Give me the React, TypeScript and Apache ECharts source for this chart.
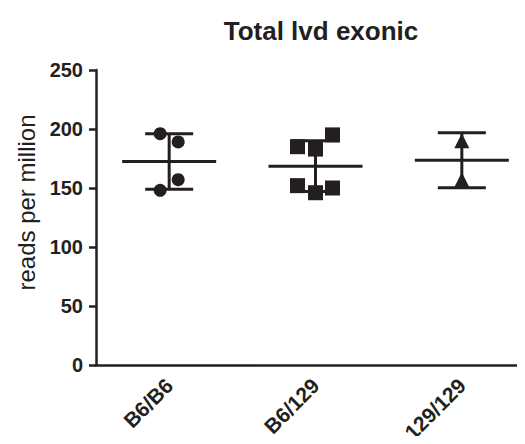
import React, { useEffect, useRef } from "react";
import * as echarts from "echarts";

const TITLE = "Total lvd exonic";
const Y_NAME = "reads per million";
const CATEGORIES = ["B6/B6", "B6/129", "129/129"];
const B6_B6 = [196, 189, 157, 148];
const B6_129 = [185, 183, 195, 152, 146, 150];
const S129_129 = [190, 157];
const Y_TICKS = [0, 50, 100, 150, 200, 250];

const GROUPS = [B6_B6, B6_129, S129_129];
const SYMBOLS = ["circle", "rect", "triangle"];
const SYMBOL_SIZES = [13, 15, 15];
// horizontal scatter-dot spread (pixels) for each point
const SPREAD = [
  [-9, 9, 9, -9],
  [-18, 0, 17, -18, 0, 17],
  [0, 0],
];

const INK = "#231f20";
const FONT = "Arial, 'Liberation Sans', Helvetica, sans-serif";

function mean(a: number[]) {
  return a.reduce((s, v) => s + v, 0) / a.length;
}
function sd(a: number[]) {
  const m = mean(a);
  return Math.sqrt(a.reduce((s, v) => s + (v - m) * (v - m), 0) / (a.length - 1));
}

export default function App() {
  const ref = useRef<HTMLDivElement>(null);
  useEffect(() => {
    if (!ref.current) return;
    const chart = echarts.init(ref.current, null, { renderer: "svg" });
    const summary = GROUPS.map((g, i) => [i, mean(g), sd(g)]);
    const scatterSeries = GROUPS.map((g, gi) => ({
      type: "scatter",
      z: 5,
      symbol: SYMBOLS[gi],
      symbolSize: SYMBOL_SIZES[gi],
      itemStyle: { color: INK, opacity: 1 },
      data: g.map((v, i) => ({
        value: [gi, v],
        symbolOffset: [SPREAD[gi][i] || 0, 0],
      })),
    }));
    chart.setOption({
      animation: false,
      title: {
        text: TITLE,
        left: 316,
        top: 13,
        textAlign: "center",
        textStyle: { fontFamily: FONT, fontWeight: "bold", fontSize: 26, color: INK },
      },
      grid: { left: 96, right: -10, top: 70, bottom: 79, outerBoundsMode: "none" },
      xAxis: {
        type: "category",
        data: CATEGORIES,
        boundaryGap: true,
        axisLine: { lineStyle: { color: INK, width: 2.5 } },
        axisTick: { alignWithLabel: true, length: 7, lineStyle: { color: INK, width: 2.5 } },
        axisLabel: {
          rotate: 45,
          margin: 17,
          color: INK,
          fontFamily: FONT,
          fontWeight: "bold",
          fontSize: 21,
          interval: 0,
        },
        splitLine: { show: false },
      },
      yAxis: {
        type: "value",
        min: Y_TICKS[0],
        max: Y_TICKS[Y_TICKS.length - 1],
        interval: Y_TICKS[1] - Y_TICKS[0],
        name: Y_NAME,
        nameLocation: "middle",
        nameRotate: 90,
        nameGap: 56,
        nameTextStyle: { fontFamily: FONT, fontSize: 24, color: INK, padding: [0, 0, 0, 30] },
        axisLine: { show: true, lineStyle: { color: INK, width: 2.5 } },
        axisTick: { show: true, length: 7, lineStyle: { color: INK, width: 2.5 } },
        axisLabel: {
          margin: 13,
          color: INK,
          fontFamily: FONT,
          fontWeight: "bold",
          fontSize: 20,
        },
        splitLine: { show: false },
      },
      series: [
        {
          type: "custom",
          z: 2,
          data: summary,
          renderItem: (params: any, api: any) => {
            const x = api.value(0);
            const m = api.value(1);
            const s = api.value(2);
            const c = api.coord([x, m]);
            const top = api.coord([x, m + s]);
            const bot = api.coord([x, m - s]);
            const style = { stroke: INK, lineWidth: 3 };
            return {
              type: "group",
              children: [
                { type: "line", shape: { x1: c[0] - 47, y1: c[1], x2: c[0] + 47, y2: c[1] }, style },
                { type: "line", shape: { x1: c[0], y1: top[1], x2: c[0], y2: bot[1] }, style },
                { type: "line", shape: { x1: c[0] - 24, y1: top[1], x2: c[0] + 24, y2: top[1] }, style },
                { type: "line", shape: { x1: c[0] - 24, y1: bot[1], x2: c[0] + 24, y2: bot[1] }, style },
              ],
            };
          },
        },
        ...scatterSeries,
      ],
    });
    return () => chart.dispose();
  }, []);
  return <div ref={ref} style={{ width: 525, height: 444, margin: -8 }} />;
}
